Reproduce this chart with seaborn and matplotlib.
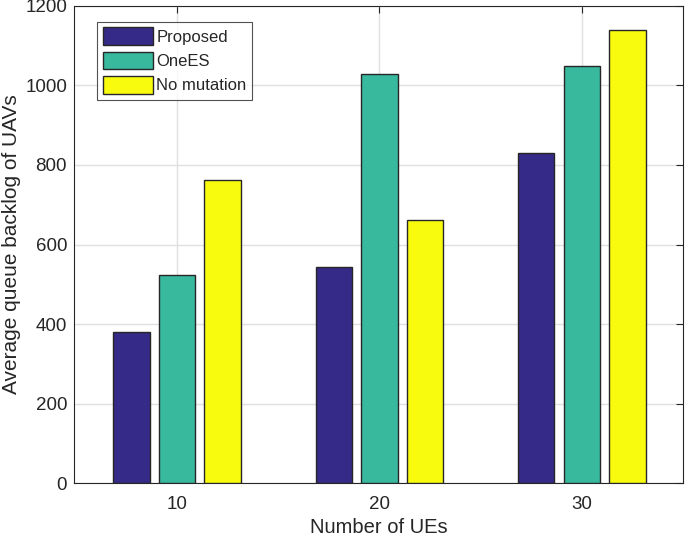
import matplotlib
matplotlib.use("Agg")
import matplotlib.pyplot as plt
import seaborn as sns
import pandas as pd

categories = ["10", "20", "30"]
series = ["Proposed", "OneES", "No mutation"]
proposed = [380, 543, 829]
onees = [523, 1030, 1050]
no_mutation = [763, 661, 1140]
colors = ["#352A87", "#38B99E", "#F9FB0E"]

rows = []
for name, vals in zip(series, [proposed, onees, no_mutation]):
    for c, v in zip(categories, vals):
        rows.append({"UEs": c, "Method": name, "Value": v})
df = pd.DataFrame(rows)

sns.set_style("white")
plt.rcParams["font.family"] = ["Liberation Sans", "DejaVu Sans"]

fig = plt.figure(figsize=(6.85, 5.38), dpi=100)
ax = fig.add_axes([0.108, 0.102, 0.889, 0.887])

sns.barplot(data=df, x="UEs", y="Value", hue="Method", order=categories,
            hue_order=series, palette=colors, saturation=1, width=0.675, gap=0.2,
            edgecolor="#262626", linewidth=1.0, ax=ax, zorder=3)

ax.set_xlim(-0.51, 2.50)
ax.set_ylim(0, 1200)
ax.set_yticks([0, 200, 400, 600, 800, 1000, 1200])
ax.grid(True, color="#e0e0e0", linewidth=1.0, zorder=0)
ax.set_axisbelow(True)
for s in ax.spines.values():
    s.set_color("#262626")
    s.set_linewidth(0.8)
ax.tick_params(axis="both", direction="in", length=5, width=0.8, color="#262626",
               labelsize=13.5, labelcolor="#262626", top=True, right=True)
ax.tick_params(axis="y", pad=5)
ax.tick_params(axis="x", pad=9)
ax.set_xlabel("Number of UEs", fontsize=14.5, color="#262626", labelpad=4)
ax.set_ylabel("Average queue backlog of UAVs", fontsize=15, color="#262626", labelpad=3)

leg = ax.legend(loc="upper left", bbox_to_anchor=(0.038, 0.967), fontsize=12,
                frameon=True, fancybox=False, edgecolor="#262626",
                handlelength=3.0, handleheight=1.25, handletextpad=0.2,
                labelspacing=0.4, borderpad=0.35, borderaxespad=0)
leg.get_frame().set_linewidth(0.8)
leg.set_title(None)

fig.savefig("out.png", dpi=100)
